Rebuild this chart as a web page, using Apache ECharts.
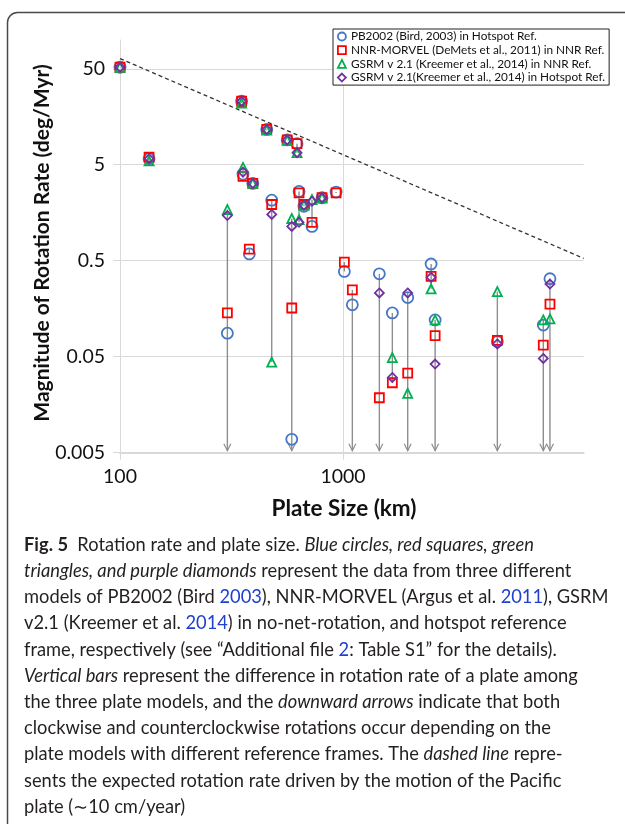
<!DOCTYPE html>
<html><head><meta charset="utf-8">
<script src="https://cdn.jsdelivr.net/npm/echarts@6/dist/echarts.min.js"></script>
<style>html,body{margin:0;padding:0;background:#fff}#c{width:625px;height:824px}</style>
</head><body><div id="c"></div>
<script>
// ---- data ----
const seriesNames = [
  'PB2002 (Bird, 2003) in Hotspot Ref.',
  'NNR-MORVEL (DeMets et al., 2011) in NNR Ref.',
  'GSRM v 2.1 (Kreemer et al., 2014) in NNR Ref.',
  'GSRM v 2.1(Kreemer et al., 2014) in Hotspot Ref.'
];
const plateSize = [100, 135, 303, 351, 356, 380, 394, 455, 479, 562, 589, 622, 635, 668, 726, 805, 931, 1014, 1101, 1455, 1664, 1950, 2483, 2588, 4920, 7907, 8470];
const pb2002    = [52, 5.8, 0.088, 23, 4.0, 0.59, 3.2, 11.7, 2.14, 9.1, 0.0069, 8.3, 2.64, 1.85, 1.14, 2.27, 2.6, 0.387, 0.174, 0.366, 0.143, 0.207, 0.463, 0.121, 0.072, 0.107, 0.325];
const nnrMorvel = [52, 6.0, 0.143, 23, 3.8, 0.66, 3.2, 11.7, 1.93, 9.1, 0.161, 8.3, 2.55, 1.93, 1.26, 2.27, 2.55, 0.485, 0.249, 0.0187, 0.0268, 0.0337, 0.344, 0.083, 0.074, 0.066, 0.177];
const gsrmNNR   = [52, 5.5, 1.71, 22, 4.7, null, 3.2, 11.5, 0.044, 9.0, 1.38, 6.7, 1.34, 1.9, 2.17, 2.27, null, null, null, null, 0.049, 0.0208, 0.255, 0.121, 0.239, 0.121, 0.124];
const gsrmHS    = [52, 5.8, 1.48, 23, 4.2, null, 3.2, 11.7, 1.52, 9.1, 1.14, 6.7, 1.26, 1.9, 2.09, 2.27, null, null, null, 0.231, 0.0304, 0.231, 0.336, 0.042, 0.068, 0.048, 0.286];
const signChange = [0, 0, 1, 0, 0, 0, 0, 0, 0, 0, 1, 0, 0, 0, 0, 0, 0, 0, 1, 1, 0, 1, 0, 1, 1, 1, 1];
const pacificX = [100, 12000];
const pacificY = [64, 0.53];
const xTickLabels = ['100', '1000', '10000'];
const yTickLabels = ['0.005', '0.05', '0.5', '5', '50'];
const xRange = [100, 12000];
const yRange = [0.005, 100];
const captionLines = [
  '{b|Fig. 5}  Rotation rate and plate size. {i|Blue circles, red squares, green}',
  '{i|triangles, and purple diamonds} represent the data from three different',
  'models of PB2002 (Bird {l|2003}), NNR-MORVEL (Argus et al. {l|2011}), GSRM',
  'v2.1 (Kreemer et al. {l|2014}) in no-net-rotation, and hotspot reference',
  'frame, respectively (see \u201cAdditional file {l|2}: Table S1\u201d for the details).',
  '{i|Vertical bars} represent the difference in rotation rate of a plate among',
  'the three plate models, and the {i|downward arrows} indicate that both',
  'clockwise and counterclockwise rotations occur depending on the',
  'plate models with different reference frames. The {i|dashed line} repre-',
  'sents the expected rotation rate driven by the motion of the Pacific',
  'plate (\u223c10 cm/year)'
];

// ---- build ----
const FONT = 'Lato, "Open Sans", sans-serif';
const colors = ['#4677c4', '#ff0000', '#00b050', '#7030a0'];
const symbols = ['circle', 'rect', 'triangle', 'diamond'];
const sizes = [11, 9, 9, 9];
const models = [pb2002, nnrMorvel, gsrmNNR, gsrmHS];
const lg = Math.log10;
const yMin = lg(yRange[0]), yMax = lg(yRange[1]);

const scatterSeries = models.map((arr, k) => ({
  name: seriesNames[k], type: 'scatter', symbol: symbols[k], symbolSize: sizes[k], z: 5 + k,
  itemStyle: { color: 'transparent', borderColor: colors[k], borderWidth: 1.8, opacity: 1 },
  data: plateSize.map((s, i) => arr[i] == null ? null : [s, lg(arr[i])]).filter(d => d)
}));

const barData = plateSize.map((s, i) => {
  const vs = models.map(a => a[i]).filter(v => v != null);
  return [s, lg(Math.max(...vs)), lg(Math.min(...vs)), signChange[i]];
});

const barSeries = {
  type: 'custom', z: 2, silent: true,
  encode: { x: 0, y: [1, 2] },
  data: barData,
  renderItem: (params, api) => {
    const x = api.value(0);
    const p1 = api.coord([x, api.value(1)]);
    const arrow = api.value(3) === 1;
    let p2;
    if (arrow) { p2 = api.coord([x, yMin]); p2[1] -= 2; }
    else p2 = api.coord([x, api.value(2)]);
    const ch = [{ type: 'line', shape: { x1: p1[0], y1: p1[1], x2: p2[0], y2: p2[1] },
      style: { stroke: '#8e8e8e', lineWidth: 1.4 } }];
    if (arrow) ch.push({ type: 'polyline',
      shape: { points: [[p2[0] - 3.5, p2[1] - 7], [p2[0], p2[1]], [p2[0] + 3.5, p2[1] - 7]] },
      style: { stroke: '#8e8e8e', fill: 'none', lineWidth: 1.2 } });
    return { type: 'group', children: ch };
  }
};

const dashSeries = {
  type: 'line', z: 3, silent: true, symbol: 'none',
  lineStyle: { color: '#333', width: 1.3, type: [4, 3] },
  data: pacificX.map((x, i) => [x, lg(pacificY[i])])
};

const gridColor = '#d9d9d9';
const CAP = 18.3;
const caption = captionLines.map((t, i) => ({
  type: 'text', x: 24, y: 545 + i * 26.2,
  style: {
    text: t, verticalAlign: 'middle', align: 'left',
    font: CAP + 'px ' + FONT, fill: '#231f20',
    rich: {
      b: { fontWeight: 'bold', fontSize: CAP, fontFamily: FONT, fill: '#231f20' },
      i: { fontStyle: 'italic', fontSize: CAP, fontFamily: FONT, fill: '#231f20' },
      l: { fontSize: CAP, fontFamily: FONT, fill: '#1f3fd0' }
    }
  }
}));

const option = {
  backgroundColor: '#fff',
  animation: false,
  grid: { left: 120, top: 40, width: 463.7, height: 412.7 },
  xAxis: {
    type: 'log', logBase: 10, min: xRange[0], max: xRange[1],
    axisLine: { show: true, onZero: false, lineStyle: { color: gridColor, width: 2 } },
    axisTick: { show: true, length: 7, lineStyle: { color: gridColor }, customValues: xTickLabels.map(Number) },
    axisLabel: { show: true, color: '#111', fontFamily: FONT, fontSize: 19.5, margin: 14,
      showMaxLabel: false, customValues: xTickLabels.map(Number),
      formatter: v => xTickLabels.find(l => Math.abs(lg(+l) - lg(v)) < 0.01) || '' },
    splitLine: { show: true, showMaxLine: false, lineStyle: { color: gridColor, width: 1 } }
  },
  yAxis: {
    type: 'value', min: yMin, max: yMax, interval: 1,
    axisLine: { show: true, onZero: false, lineStyle: { color: gridColor, width: 1 } },
    axisTick: { show: true, length: 7, lineStyle: { color: gridColor } },
    axisLabel: { show: true, color: '#111', fontFamily: FONT, fontSize: 19.5, margin: 15, showMaxLabel: false,
      formatter: v => yTickLabels.find(l => Math.abs(lg(+l) - v) < 0.02) || '' },
    splitLine: { show: true, showMaxLine: false, lineStyle: { color: gridColor, width: 1 } }
  },
  legend: {
    data: seriesNames.map((n, k) => ({ name: n, icon: symbols[k],
      itemStyle: { color: 'transparent', borderColor: colors[k], borderWidth: 1.8 } })),
    orient: 'vertical', left: 333, top: 29, padding: [1, 4, 1, 4], itemGap: 0.7,
    itemWidth: 8, itemHeight: 8, borderColor: '#222', borderWidth: 1, backgroundColor: '#fff',
    textStyle: { fontFamily: FONT, fontSize: 11.8, color: '#111', lineHeight: 13 },
    selectedMode: false
  },
  graphic: [
    { type: 'rect', shape: { x: 7.5, y: 12.5, width: 700, height: 900, r: [10, 0, 0, 0] },
      style: { fill: 'none', stroke: '#4a4a4a', lineWidth: 1.5 }, silent: true },
    { type: 'text', x: 42, y: 243, rotation: Math.PI / 2,
      style: { text: 'Magnitude of Rotation Rate (deg/Myr)', align: 'center', verticalAlign: 'middle',
        font: 'bold 21px ' + FONT, fill: '#111' } },
    { type: 'text', x: 344, y: 509,
      style: { text: 'Plate Size (km)', align: 'center', verticalAlign: 'middle',
        font: 'bold 22.5px ' + FONT, fill: '#111' } },
    ...caption
  ],
  series: [barSeries, dashSeries, ...scatterSeries]
};

const chart = echarts.init(document.getElementById('c'), null, { renderer: 'canvas' });
chart.setOption(option);
</script>
</body></html>
